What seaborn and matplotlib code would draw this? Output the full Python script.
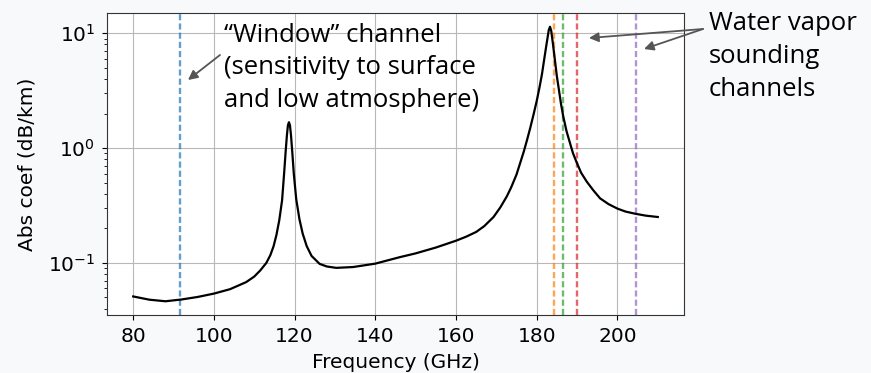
import matplotlib
matplotlib.use("Agg")
import matplotlib.pyplot as plt
import seaborn as sns
import pandas as pd

# Absorption coefficient spectrum (GHz, dB/km)
freq_ghz = [80, 84, 88, 92, 96, 100, 104, 108, 110, 111.5, 113, 114, 114.8,
            115.5, 116.2, 116.9, 117.4, 117.8, 118.1, 118.35, 118.6, 118.85,
            119.1, 119.4, 119.8, 120.4, 121.2, 122.0, 123.0, 124.2, 126.2,
            128, 130.3, 134.5, 140, 146, 150, 155, 160, 162.5, 165, 167,
            169.3, 171, 172.6, 173.7, 175, 175.9, 176.8, 177.6, 178.4, 179.2,
            180, 180.7, 181.3, 181.8, 182.3, 182.7, 183.0, 183.3, 183.6,
            184.0, 184.6, 185.0, 185.4, 186.0, 186.6, 187.4, 188.3, 189.0,
            189.9, 191, 192.4, 194, 195.7, 197.8, 200, 202, 204.4, 207, 210]
abs_coef = [0.051, 0.0478, 0.0463, 0.048, 0.0505, 0.054, 0.059, 0.068, 0.076,
            0.086, 0.100, 0.117, 0.140, 0.175, 0.235, 0.351, 0.60, 0.95, 1.30,
            1.58, 1.68, 1.58, 1.30, 0.95, 0.60, 0.36, 0.24, 0.18, 0.14, 0.115,
            0.098, 0.093, 0.0905, 0.092, 0.0985, 0.112, 0.121, 0.136, 0.156,
            0.169, 0.186, 0.209, 0.251, 0.305, 0.380, 0.457, 0.589, 0.741,
            0.933, 1.175, 1.50, 1.95, 2.57, 3.39, 4.4, 5.75, 7.5, 9.2, 10.7,
            11.4, 10.5, 8.2, 5.5, 4.2, 3.4, 2.45, 1.87, 1.40, 1.09, 0.90, 0.75,
            0.61, 0.51, 0.43, 0.365, 0.325, 0.297, 0.280, 0.268, 0.258, 0.251]

# Radiometer channel centre frequencies (GHz)
channel_freqs = [91.7, 184.4, 186.6, 190.0, 204.5]
channel_colors = ["#1f77b4", "#ff7f0e", "#2ca02c", "#d62728", "#9467bd"]

df = pd.DataFrame({"Frequency (GHz)": freq_ghz, "Abs coef (dB/km)": abs_coef})

fig = plt.figure(figsize=(8.71, 3.73), dpi=100, facecolor="#f8f9fb")
ax = fig.add_axes([0.1228, 0.1555, 0.6625, 0.8096])
ax.set_facecolor("white")

sns.lineplot(data=df, x="Frequency (GHz)", y="Abs coef (dB/km)", ax=ax,
             color="black", linewidth=1.6, zorder=3)
ax.set_yscale("log")

for f, c in zip(channel_freqs, channel_colors):
    ax.axvline(f, color=c, linestyle=(0, (2.6, 1.3)), linewidth=1.7,
               alpha=0.7, zorder=2)

ax.grid(True, which="major", color="#b8b8b8", linewidth=0.8)
ax.set_xticks([80, 100, 120, 140, 160, 180, 200])
ax.tick_params(labelsize=14.5, pad=5)
ax.set_xlabel("Frequency (GHz)", fontsize=14.5, labelpad=5)
ax.set_ylabel("Abs coef (dB/km)", fontsize=14.5, labelpad=8)
for s in ax.spines.values():
    s.set_color("#333333")

note_font = ["Open Sans", "DejaVu Sans"]
fig.text(224 / 871, 1 - 22.5 / 373, "\u201cWindow\u201d channel\n(sensitivity to surface\nand low atmosphere)",
         fontsize=18.5, family=note_font, va="top", ha="left", linespacing=1.4)
fig.text(709 / 871, 1 - 11.5 / 373, "Water vapor\nsounding\nchannels",
         fontsize=18.5, family=note_font, va="top", ha="left", linespacing=1.4)

arrow = dict(arrowstyle="-|>", color="#555555", lw=1.3, mutation_scale=14,
             shrinkA=0, shrinkB=0)
ax.annotate("", xy=(188 / 871, 1 - 80 / 373), xytext=(220 / 871, 1 - 55 / 373),
            xycoords="figure fraction", textcoords="figure fraction", arrowprops=arrow)
ax.annotate("", xy=(589 / 871, 1 - 38 / 373), xytext=(703 / 871, 1 - 29 / 373),
            xycoords="figure fraction", textcoords="figure fraction", arrowprops=arrow)
ax.annotate("", xy=(644 / 871, 1 - 49 / 373), xytext=(703 / 871, 1 - 29 / 373),
            xycoords="figure fraction", textcoords="figure fraction", arrowprops=arrow)

fig.savefig("out.png", dpi=100, facecolor=fig.get_facecolor())
